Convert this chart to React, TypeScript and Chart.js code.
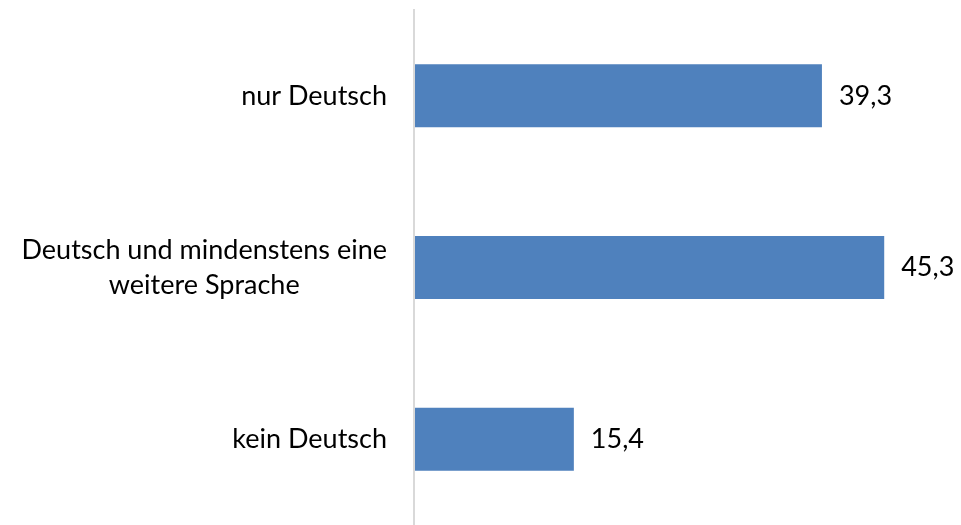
import React, { useEffect, useRef } from "react";
import { Chart, registerables } from "chart.js";

Chart.register(...registerables);

const categories: string[][] = [
  ["nur Deutsch"],
  ["Deutsch und mindenstens eine", "weitere Sprache"],
  ["kein Deutsch"],
];
const values: number[] = [39.3, 45.3, 15.4];
const valueLabels: string[] = values.map((v) => v.toFixed(1).replace(".", ","));

const FONT_FAMILY = "Lato, 'Noto Sans', sans-serif";
const FONT_SIZE = 27;

const labelPlugin = {
  id: "customLabels",
  afterDraw(chart: any) {
    const { ctx, chartArea } = chart;
    const xScale = chart.scales.x;
    const yScale = chart.scales.y;
    ctx.save();
    // axis line
    ctx.strokeStyle = "#d9d9d9";
    ctx.lineWidth = 2;
    ctx.beginPath();
    ctx.moveTo(chartArea.left, chartArea.top - 1);
    ctx.lineTo(chartArea.left, chartArea.bottom);
    ctx.stroke();

    ctx.font = `${FONT_SIZE}px ${FONT_FAMILY}`;
    ctx.fillStyle = "#000000";
    ctx.textBaseline = "middle";
    const lineHeight = 35;
    const right = chartArea.left - 27;
    categories.forEach((lines, i) => {
      const y = yScale.getPixelForValue(i);
      const maxW = Math.max(...lines.map((l) => ctx.measureText(l).width));
      const cx = right - maxW / 2;
      ctx.textAlign = "center";
      const startY = y - ((lines.length - 1) * lineHeight) / 2;
      lines.forEach((l, j) => {
        ctx.fillText(l, cx, startY + j * lineHeight);
      });
    });

    ctx.textAlign = "left";
    values.forEach((v, i) => {
      const x = xScale.getPixelForValue(v);
      const y = yScale.getPixelForValue(i);
      ctx.fillText(valueLabels[i], x + 17, y);
    });
    ctx.restore();
  },
};

export default function App() {
  const canvasRef = useRef<HTMLCanvasElement | null>(null);
  useEffect(() => {
    if (!canvasRef.current) return;
    const chart = new Chart(canvasRef.current, {
      type: "bar",
      data: {
        labels: categories.map((c) => c.join(" ")),
        datasets: [
          {
            data: values,
            backgroundColor: "#4F81BD",
            borderWidth: 0,
            categoryPercentage: 1,
            barPercentage: 0.367,
          },
        ],
      },
      options: {
        indexAxis: "y",
        animation: false,
        responsive: true,
        maintainAspectRatio: false,
        layout: { padding: { left: 414, right: 28, top: 10, bottom: 0 } },
        plugins: {
          legend: { display: false },
          tooltip: { enabled: false },
        },
        scales: {
          x: { display: false, min: 0, max: 50 },
          y: { display: false },
        },
      },
      plugins: [labelPlugin],
    });
    return () => chart.destroy();
  }, []);
  return (
    <div
      style={{
        position: "fixed",
        left: 0,
        top: 0,
        width: 961,
        height: 525,
        background: "#ffffff",
      }}
    >
      <canvas ref={canvasRef} />
    </div>
  );
}
